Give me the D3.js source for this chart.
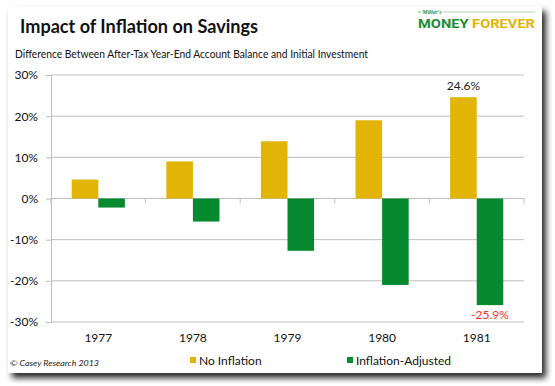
<!DOCTYPE html>
<html>
<head>
<meta charset="utf-8">
<script src="https://cdn.jsdelivr.net/npm/d3@7"></script>
<style>
  body { margin: 0; background: #fff; }
  svg { font-family: Lato, "Noto Sans", sans-serif; }
</style>
</head>
<body>
<div class="chart"></div>
<script>
const years = ["1977", "1978", "1979", "1980", "1981"];
const noInflation = [4.6, 9.0, 13.9, 19.0, 24.6];
const inflationAdjusted = [-2.2, -5.6, -12.7, -21.0, -25.9];
const seriesNames = ["No Inflation", "Inflation-Adjusted"];
const seriesColors = ["#E2B406", "#07892F"];
const yTicks = [-30, -20, -10, 0, 10, 20, 30];

const W = 555, H = 386;
const margin = ({top: 75, right: 31, bottom: 64, left: 51});
const width = W - margin.left - margin.right,
  height = H - margin.top - margin.bottom;

const svg = d3.select(".chart").append("svg")
  .attr("width", W)
  .attr("height", H);

// shadowed card
const defs = svg.append("defs");
const f = defs.append("filter").attr("id", "shadow")
  .attr("x", "-5%").attr("y", "-5%").attr("width", "115%").attr("height", "120%");
f.append("feGaussianBlur").attr("in", "SourceAlpha").attr("stdDeviation", 3);
f.append("feOffset").attr("dx", 4).attr("dy", 5).attr("result", "ob");
f.append("feComponentTransfer").append("feFuncA").attr("type", "linear").attr("slope", 0.85);
const m = f.append("feMerge");
m.append("feMergeNode");
m.append("feMergeNode").attr("in", "SourceGraphic");

svg.append("rect")
  .attr("x", 8).attr("y", 6)
  .attr("width", 534).attr("height", 367)
  .attr("fill", "#fff")
  .attr("filter", "url(#shadow)");

// title + subtitle
svg.append("text")
  .attr("x", 20).attr("y", 33)
  .attr("font-size", 19).attr("font-weight", "bold")
  .attr("fill", "#111")
  .attr("textLength", 238).attr("lengthAdjust", "spacingAndGlyphs")
  .text("Impact of Inflation on Savings");

svg.append("text")
  .attr("x", 15).attr("y", 58)
  .attr("font-size", 11)
  .attr("fill", "#111")
  .attr("textLength", 353).attr("lengthAdjust", "spacingAndGlyphs")
  .text("Difference Between After-Tax Year-End Account Balance and Initial Investment");

// logo
const logo = svg.append("g");
logo.append("line").attr("x1", 418).attr("x2", 421).attr("y1", 12).attr("y2", 12)
  .attr("stroke", "#3a9a3a").attr("stroke-width", 0.7);
logo.append("line").attr("x1", 443).attr("x2", 535).attr("y1", 12).attr("y2", 12)
  .attr("stroke", "#8fcf9f").attr("stroke-width", 0.8);
logo.append("text").attr("x", 432).attr("y", 14)
  .attr("text-anchor", "middle")
  .attr("font-family", "'Liberation Serif', serif")
  .attr("font-style", "italic").attr("font-weight", "bold")
  .attr("font-size", 6).attr("fill", "#2a8a2a")
  .text("Miller's");
const logoText = logo.append("text").attr("x", 418).attr("y", 27.5)
  .attr("font-family", "Roboto, 'Liberation Sans', sans-serif")
  .attr("font-weight", "bold").attr("font-size", 13.5)
  .attr("textLength", 117).attr("lengthAdjust", "spacingAndGlyphs");
logoText.append("tspan").attr("fill", "#1b8c32").text("MONEY ");
logoText.append("tspan").attr("fill", "#E2B406").text("FOREVER");

const g = svg.append("g")
  .attr("transform", "translate(" + margin.left + "," + margin.top + ")");

const xScale = d3.scaleBand()
  .domain(years)
  .range([0, width]);

const xInner = d3.scaleBand()
  .domain(seriesNames)
  .range([0, xScale.bandwidth()])
  .paddingOuter(0.78);

const yScale = d3.scaleLinear()
  .domain([-30, 30])
  .range([height, 0]);

// gridlines
g.append("g")
  .selectAll("line")
  .data(yTicks)
  .enter()
  .append("line")
  .attr("x1", 0).attr("x2", width)
  .attr("y1", d => yScale(d)).attr("y2", d => yScale(d))
  .attr("stroke", "#bdbdbd")
  .attr("stroke-width", 1);

// y axis
const yAxis = d3.axisLeft(yScale)
  .tickValues(yTicks)
  .tickSize(5)
  .tickFormat(d => d + "%");
g.append("g")
  .attr("class", "axis y-axis")
  .call(yAxis)
  .call(s => s.selectAll("path, line").attr("stroke", "#bdbdbd"))
  .call(s => s.selectAll("text").attr("font-size", 12).attr("fill", "#111")
    .attr("font-family", "Lato, 'Noto Sans', sans-serif").attr("x", -13));

// category ticks on the zero line
g.append("g")
  .selectAll("line")
  .data(years.concat(["end"]))
  .enter()
  .append("line")
  .attr("x1", (d, i) => i * xScale.step())
  .attr("x2", (d, i) => i * xScale.step())
  .attr("y1", yScale(0)).attr("y2", yScale(0) + 5)
  .attr("stroke", "#bdbdbd");

// bars
const rows = years.map((y, i) => ({year: y, values: [noInflation[i], inflationAdjusted[i]]}));
const groups = g.selectAll(".year")
  .data(rows)
  .enter()
  .append("g")
  .attr("transform", d => "translate(" + xScale(d.year) + ",0)");

groups.selectAll("rect")
  .data(d => d.values.map((v, k) => ({name: seriesNames[k], value: v, color: seriesColors[k]})))
  .enter()
  .append("rect")
  .attr("x", d => xInner(d.name))
  .attr("width", xInner.bandwidth())
  .attr("y", d => yScale(Math.max(0, d.value)))
  .attr("height", d => Math.abs(yScale(d.value) - yScale(0)))
  .attr("fill", d => d.color);

// data labels for 1981
const last = years.length - 1;
g.append("text")
  .attr("x", xScale(years[last]) + xInner(seriesNames[0]) + xInner.bandwidth() / 2)
  .attr("y", yScale(noInflation[last]) - 7)
  .attr("text-anchor", "middle")
  .attr("font-size", 12).attr("fill", "#222")
  .text(noInflation[last].toFixed(1) + "%");
g.append("text")
  .attr("x", xScale(years[last]) + xInner(seriesNames[1]) + xInner.bandwidth() / 2)
  .attr("y", yScale(inflationAdjusted[last]) + 14)
  .attr("text-anchor", "middle")
  .attr("font-size", 12).attr("fill", "#ff2a2a")
  .text(inflationAdjusted[last].toFixed(1) + "%");

// x labels
g.append("g")
  .selectAll("text")
  .data(years)
  .enter()
  .append("text")
  .attr("x", d => xScale(d) + xScale.bandwidth() / 2)
  .attr("y", height + 20)
  .attr("text-anchor", "middle")
  .attr("font-size", 12).attr("fill", "#111")
  .text(d => d);

// legend
const legendX = [190, 347];
const legend = svg.selectAll(".legend")
  .data(seriesNames)
  .enter()
  .append("g")
  .attr("transform", (d, i) => "translate(" + legendX[i] + ",360)");
legend.append("rect")
  .attr("x", 0).attr("y", -3)
  .attr("width", 6).attr("height", 6)
  .style("fill", (d, i) => seriesColors[i]);
legend.append("text")
  .attr("x", 9).attr("y", 4.5)
  .attr("font-size", 12).attr("fill", "#111")
  .text(d => d);

svg.append("text")
  .attr("x", 10).attr("y", 366)
  .attr("font-size", 8.5).attr("font-style", "italic")
  .attr("fill", "#222")
  .attr("textLength", 89).attr("lengthAdjust", "spacingAndGlyphs")
  .text("© Casey Research 2013");
</script>
</body>
</html>
